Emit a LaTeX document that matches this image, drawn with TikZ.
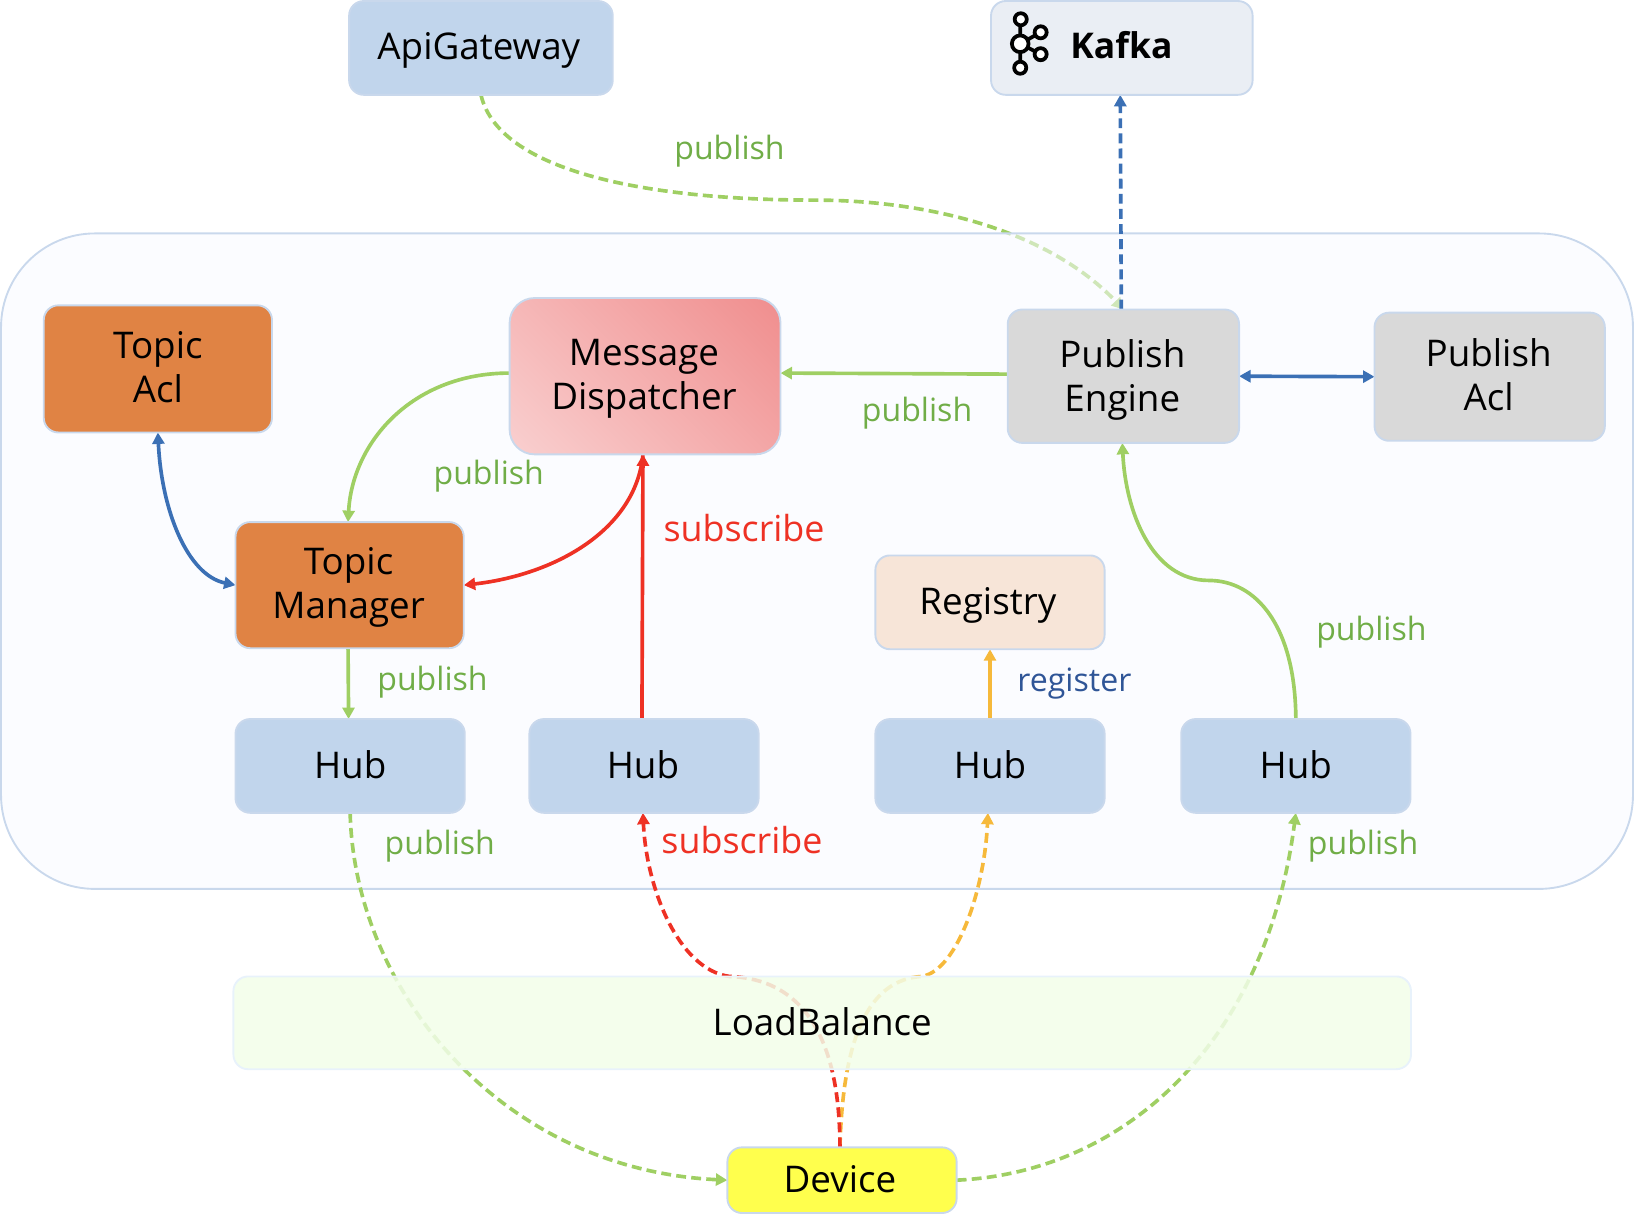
\documentclass[tikz,border=0pt]{standalone}
\usepackage{fontspec}
\setmainfont{Open Sans}
\usetikzlibrary{arrows.meta,backgrounds}
\definecolor{bdr}{HTML}{C9D8EC}
\definecolor{hubf}{HTML}{C1D5EC}
\definecolor{grayf}{HTML}{D9D9D9}
\definecolor{orangef}{HTML}{E08344}
\definecolor{regf}{HTML}{F7E5D8}
\definecolor{kaff}{HTML}{EAEEF4}
\definecolor{mdtr}{HTML}{EE8080}
\definecolor{mdbl}{HTML}{FBDDDD}
\definecolor{contf}{HTML}{F8FAFF}
\definecolor{lbf}{HTML}{F2FEE9}
\definecolor{lbd}{HTML}{E8F2FB}
\definecolor{devf}{HTML}{FFFF4D}
\definecolor{lnG}{HTML}{9FCF63}
\definecolor{lnR}{HTML}{EE3124}
\definecolor{lnB}{HTML}{3B70B5}
\definecolor{lnO}{HTML}{F6B93B}
\definecolor{txtG}{HTML}{70AD47}
\definecolor{txtB}{HTML}{2F5597}
\pgfdeclarelayer{apilayer}
\pgfdeclarelayer{contlayer}
\pgfdeclarelayer{edgelayer}
\pgfsetlayers{apilayer,contlayer,edgelayer,main}
% text shifted inside its box, without changing the box: dx, dy (up), lines
\newcommand\tx[3]{\kern#1pt\raisebox{#2pt}[\height][\depth]{\begin{tabular}{@{}c@{}}#3\end{tabular}}\kern-#1pt}
\tikzset{
  box/.style={draw=bdr,line width=1.8pt,rounded corners=14pt,inner sep=0pt,outer sep=0pt,align=center,
    font=\fontsize{35.3}{42}\selectfont,text=black},
  hub/.style={box,fill=hubf,minimum width=220pt,minimum height=90pt},
  lab/.style={font=\fontsize{30.8}{36}\selectfont,inner sep=0pt},
  pub/.style={lab,text=txtG},
  subs/.style={inner sep=0pt,text=lnR,font=\fontsize{34.4}{40}\selectfont},
  edge/.style={line width=3.5pt,-{Triangle[length=11pt,width=11.5pt]}},
  edgeboth/.style={line width=3.5pt,{Triangle[length=11pt,width=11.5pt]}-{Triangle[length=11pt,width=11.5pt]}},
  dashline/.style={dash pattern=on 9.5pt off 5pt},
  ring/.style={draw=black,line width=3.6pt,fill=white}
}
\begin{document}
\begin{tikzpicture}[x=1pt,y=-1pt]
\useasboundingbox (0,0) rectangle (1568,1174.6);
% nodes
\node[box,fill=hubf,minimum width=253pt,minimum height=90pt] (api) at (461.5,46) {\tx{-2}{-3}{ApiGateway}};
\node[box,fill=kaff,minimum width=251pt,minimum height=90pt] (kafka) at (1076.5,46) {};
\node[inner sep=0pt,font=\fontsize{34}{40}\selectfont\bfseries,anchor=west] (kafkatext) at (1027,43) {Kafka};
\node[box,fill=orangef,minimum width=219pt,minimum height=122pt] (ta) at (151.5,354) {\tx{0}{-3}{Topic\\Acl}};
\node[box,minimum width=260pt,minimum height=150pt,rounded corners=24pt,
  path picture={\fill[top color=mdtr,bottom color=mdbl,shading angle=-45]
    (path picture bounding box.center) ++(-205,-205) rectangle ++(410,410);}] (md) at (619,361) {\tx{-1}{-2.5}{Message\\Dispatcher}};
\node[box,fill=grayf,minimum width=222pt,minimum height=128pt] (pe) at (1078,361) {\tx{-1}{-4}{Publish\\Engine}};
\node[box,fill=grayf,minimum width=221pt,minimum height=123pt] (pa) at (1429.5,361.5) {\tx{-1}{-3}{Publish\\Acl}};
\node[box,fill=orangef,minimum width=219pt,minimum height=121pt] (tm) at (335.5,561.5) {\tx{-1}{-2.5}{Topic\\Manager}};
\node[box,fill=regf,minimum width=220pt,minimum height=90pt] (reg) at (950,578) {\tx{-2}{-3}{Registry}};
\node[hub] (h1) at (336,735) {\tx{0}{-4}{Hub}};
\node[hub] (h2) at (618,735) {\tx{-1}{-4}{Hub}};
\node[hub] (h3) at (950,735) {\tx{0}{-4}{Hub}};
\node[hub] (h4) at (1243.5,735) {\tx{0}{-4}{Hub}};
\node[box,draw=lbd,fill=lbf,fill opacity=.85,text opacity=1,minimum width=1130pt,minimum height=89pt] (lb) at (789,981.5) {\tx{0}{-4}{LoadBalance}};
\node[box,fill=devf,minimum width=220pt,minimum height=63pt] (dev) at (808,1132.5) {\tx{-2}{-3}{Device}};
% kafka logo
\draw[line width=3.6pt] (979,18.5) -- (979,65) (979,42) -- (998.6,31) (979,42) -- (998.6,52);
\foreach \p/\n in {979.5/18.5,998.6/31,998.6/52,979/65} \filldraw[ring] (\p,\n) circle (5.8pt);
\filldraw[ring] (979,42) circle (8pt);
% api edge, under container
\begin{pgfonlayer}{apilayer}
\draw[edge,lnG,dashline] (api.south) .. controls (480,170) and (640,192) .. (780,192)
  .. controls (900,192) and (1010,225) .. (pe.north);
\end{pgfonlayer}
\begin{pgfonlayer}{contlayer}
\node[draw=bdr,line width=1.8pt,fill=contf,fill opacity=.55,rounded corners=90pt,minimum width=1566pt,minimum height=629pt,inner sep=0pt] (cont) at (784,538.5) {};
\end{pgfonlayer}
\begin{pgfonlayer}{edgelayer}
\draw[edge,lnB,dashline] ([xshift=-2pt]pe.north) -- ([xshift=-1.5pt]kafka.south);
\draw[edge,lnG] ([yshift=2pt]pe.west) -- ([yshift=3pt]md.east);
\draw[edgeboth,lnB] (pe.east) -- (pa.west);
\draw[edge,lnG] ([yshift=3pt]md.west) .. controls (395,358) and (338,425) .. ([xshift=-1.5pt]tm.north);
\draw[edgeboth,lnB] (ta.south) .. controls (155,490) and (180,552) .. (tm.west);
\draw[edge,lnR] ([xshift=-2pt]md.south) .. controls (610,510) and (530,552) .. (tm.east);
\draw[edge,lnR] ([xshift=-2pt]h2.north) -- ([xshift=-2pt]md.south);
\draw[edge,lnG] ([xshift=-1.5pt]tm.south) -- ([xshift=-1.5pt]h1.north);
\draw[edge,lnO] (h3.north) -- (reg.south);
\draw[edge,lnG] (h4.north) .. controls (1243,600) and (1205,557) .. (1160,557)
  .. controls (1105,557) and (1080,490) .. ([xshift=-1pt]pe.south);
\draw[edge,lnG,dashline] (h1.south) .. controls (340,950) and (480,1122) .. (dev.west);
\draw[edge,lnG,dashline] (dev.east) .. controls (1080,1125) and (1215,1000) .. (h4.south);
\draw[edge,lnO,dashline] ([xshift=-2pt]dev.north) .. controls (808,1030) and (820,940) .. (885,937)
  .. controls (920,930) and (945,850) .. ([xshift=-2pt]h3.south);
\draw[edge,lnR,dashline] ([xshift=-2pt]dev.north) .. controls (806,1030) and (790,940) .. (700,937)
  .. controls (650,930) and (620,850) .. ([xshift=-1pt]h2.south);
\end{pgfonlayer}
% labels
\node[pub] (l1) at (700,145) {publish};
\node[pub] (l2) at (880,396) {publish};
\node[pub] (l3) at (469,457) {publish};
\node[subs] (l4) at (714,507) {subscribe};
\node[pub] (l5) at (415,655) {publish};
\node[pub] (l6) at (422,812) {publish};
\node[subs] (l7) at (712,806) {subscribe};
\node[lab,text=txtB] (l8) at (1031,656) {register};
\node[pub] (l9) at (1316,607) {publish};
\node[pub] (l10) at (1308,812) {publish};
\end{tikzpicture}
\end{document}
